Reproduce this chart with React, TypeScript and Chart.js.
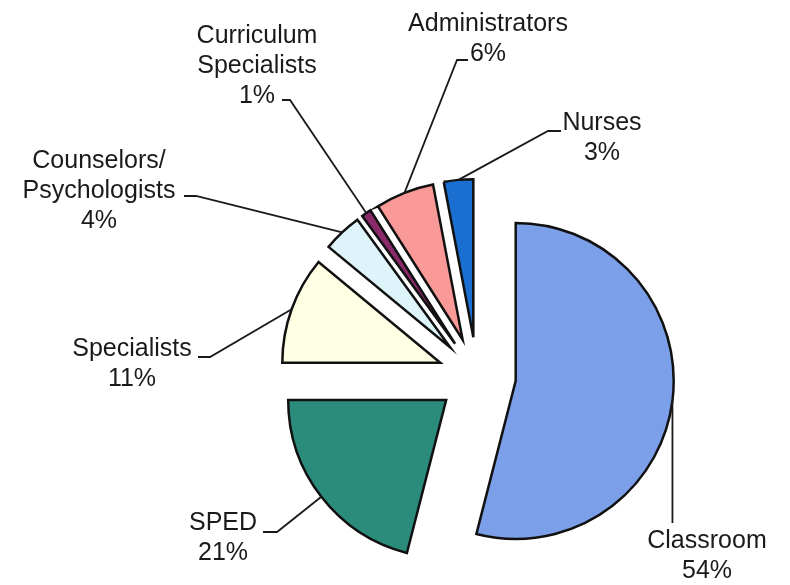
import React, { useEffect, useRef } from "react";
import { Chart, registerables } from "chart.js";

Chart.register(...registerables);

// ---- data ----
const CATEGORIES: string[][] = [
  ["Classroom"],
  ["SPED"],
  ["Specialists"],
  ["Counselors/", "Psychologists"],
  ["Curriculum", "Specialists"],
  ["Administrators"],
  ["Nurses"],
];
const VALUES: number[] = [54, 21, 11, 4, 1, 6, 3];
const COLORS: string[] = [
  "#7B9FE8",
  "#2B8C7B",
  "#FFFFE4",
  "#DDF4FA",
  "#8B2A6B",
  "#FA9A98",
  "#1A6FD0",
];

// ---- layout (relative to pie centre) ----
const EXPLODE = 39;
const RADIUS = 158;
const LINE_H = 30;
// tx,ty: text centre x / first baseline; ex,ey: elbow; lx,ly: end near text (null x => use arc x)
const LABEL_POS = [
  { tx: 230, ty: 172, ex: null, ey: 147, lx: null, ly: 147 },
  { tx: -254, ty: 154, ex: -200, ey: 156, lx: -214, ly: 156 },
  { tx: -345, ty: -20, ex: -267, ey: -19, lx: -279, ly: -19 },
  { tx: -378, ty: -208, ex: -281, ey: -180, lx: -293, ly: -180 },
  { tx: -220, ty: -333, ex: -187, ey: -276, lx: -195, ly: -276 },
  { tx: 11, ty: -345, ex: -20, ey: -316, lx: -9, ly: -316 },
  { tx: 125, ty: -246, ex: 71, ey: -245, lx: 84, ly: -245 },
];

const FONT = '25px "Liberation Sans", Arial, sans-serif';

const explodePlugin = {
  id: "explodeSlices",
  afterDatasetUpdate(chart: any, args: any) {
    const meta = chart.getDatasetMeta(args.index);
    meta.data.forEach((arc: any) => {
      const mid = (arc.startAngle + arc.endAngle) / 2;
      arc.x += Math.cos(mid) * EXPLODE;
      arc.y += Math.sin(mid) * EXPLODE;
    });
  },
};

const labelPlugin = {
  id: "leaderLabels",
  afterDatasetsDraw(chart: any) {
    const { ctx, chartArea } = chart;
    const cx = (chartArea.left + chartArea.right) / 2;
    const cy = (chartArea.top + chartArea.bottom) / 2;
    const meta = chart.getDatasetMeta(0);
    ctx.save();
    meta.data.forEach((arc: any, i: number) => {
      const p = LABEL_POS[i];
      const mid = (arc.startAngle + arc.endAngle) / 2;
      const px = arc.x + Math.cos(mid) * arc.outerRadius;
      const py = arc.y + Math.sin(mid) * arc.outerRadius;
      const ex = p.ex === null ? px : cx + p.ex;
      const ey = cy + p.ey;
      const lx = p.lx === null ? px : cx + p.lx;
      const ly = cy + p.ly;
      ctx.beginPath();
      ctx.strokeStyle = "#1a1a1a";
      ctx.lineWidth = 1.8;
      ctx.lineJoin = "miter";
      ctx.moveTo(px, py);
      ctx.lineTo(ex, ey);
      ctx.lineTo(lx, ly);
      ctx.stroke();

      const lines = [...CATEGORIES[i], `${VALUES[i]}%`];
      ctx.fillStyle = "#1a1a1a";
      ctx.font = FONT;
      ctx.textAlign = "center";
      ctx.textBaseline = "alphabetic";
      lines.forEach((t, k) => {
        ctx.fillText(t, cx + p.tx, cy + p.ty + k * LINE_H);
      });
    });
    ctx.restore();
  },
};

export default function App() {
  const ref = useRef<HTMLCanvasElement | null>(null);
  useEffect(() => {
    if (!ref.current) return;
    const chart = new Chart(ref.current, {
      type: "pie",
      data: {
        labels: CATEGORIES.map((c) => c.join(" ")),
        datasets: [
          {
            data: VALUES,
            backgroundColor: COLORS,
            borderColor: "#111",
            borderWidth: 2.5,
            borderJoinStyle: "miter",
          } as any,
        ],
      },
      options: {
        responsive: false,
        animation: false,
        radius: RADIUS,
        layout: { padding: { left: 164, top: 167, right: 0, bottom: 0 } },
        plugins: {
          legend: { display: false },
          tooltip: { enabled: false },
        },
        events: [],
      } as any,
      plugins: [explodePlugin, labelPlugin],
    });
    return () => chart.destroy();
  }, []);
  return (
    <div style={{ position: "absolute", left: 0, top: 0, width: 790, height: 585, background: "#fff" }}>
      <canvas ref={ref} width={790} height={585} style={{ display: "block" }} />
    </div>
  );
}
